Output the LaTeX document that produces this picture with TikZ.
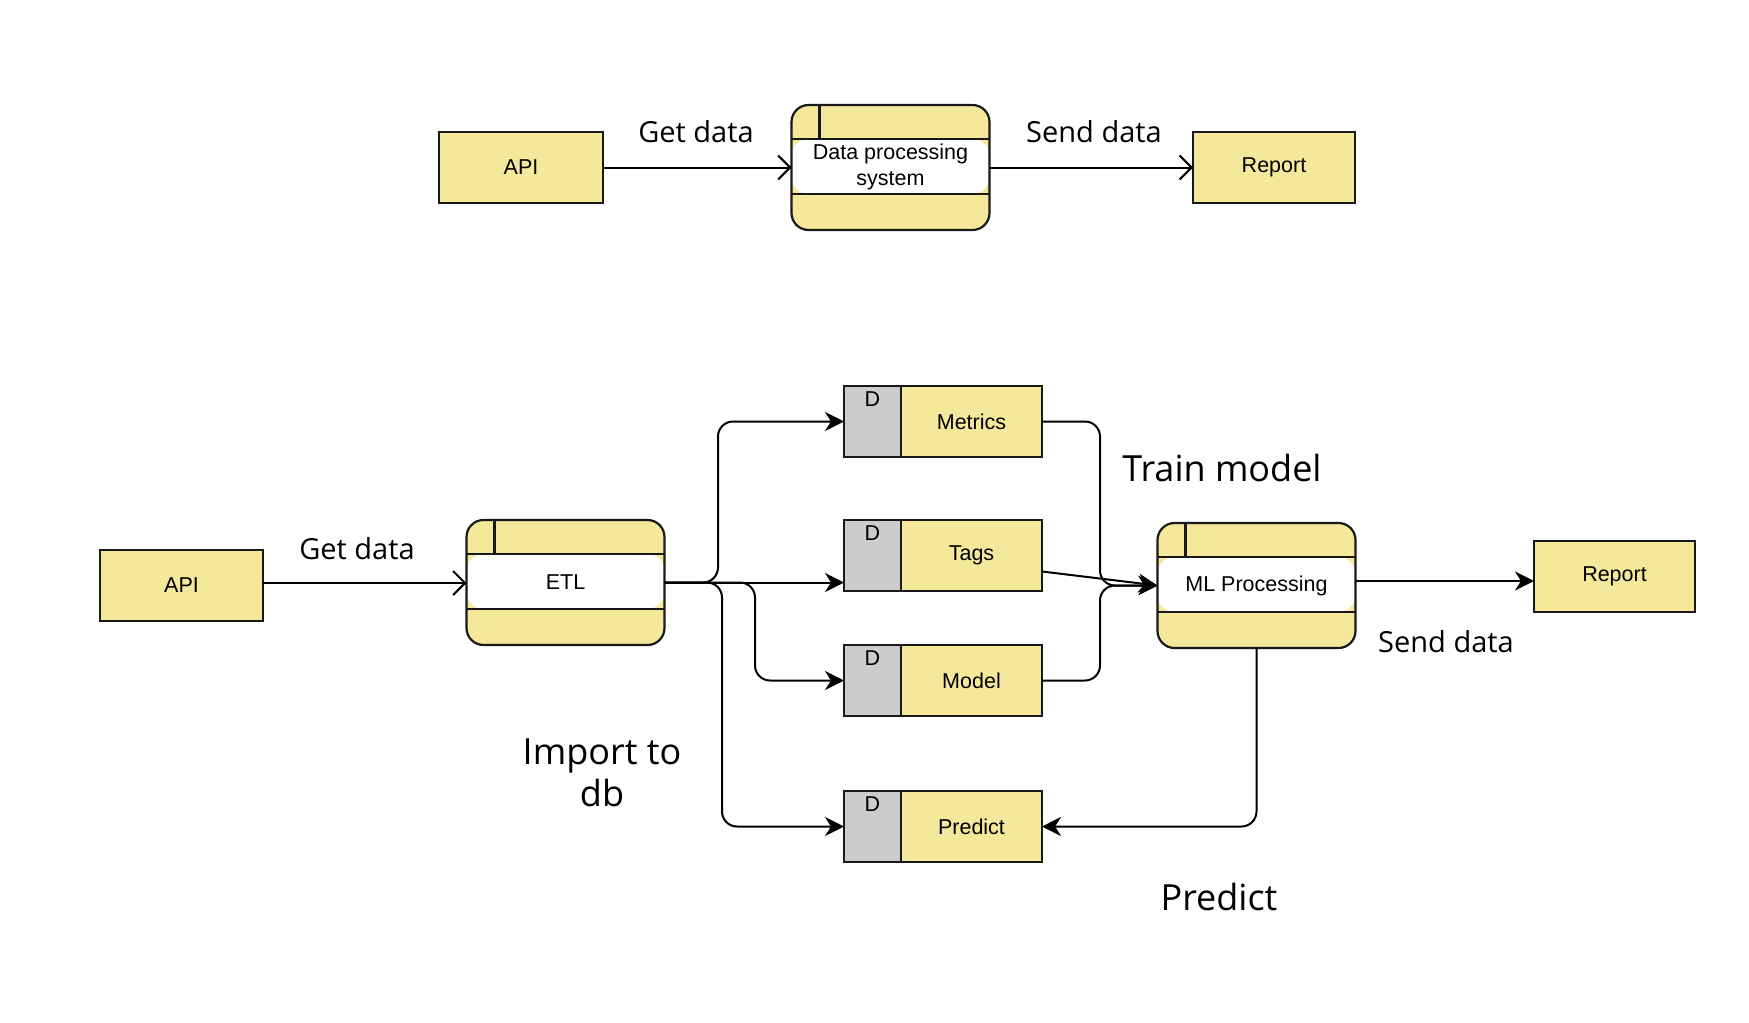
\documentclass[tikz,border=0pt]{standalone}
\usepackage{fontspec}
\setmainfont{Liberation Sans}
\newfontfamily\labfont{Open Sans}
\usetikzlibrary{arrows.meta,calc}
\definecolor{boxyellow}{HTML}{F4E89B}
\definecolor{storegray}{HTML}{CCCCCC}
\tikzset{
  boxtext/.style={font=\fontsize{21.5}{26}\selectfont, align=center, inner sep=0pt},
  lab/.style={font=\labfont\fontsize{29}{34}\selectfont, align=center, inner sep=0pt},
  biglab/.style={font=\labfont\fontsize{36}{42}\selectfont, align=center, inner sep=0pt},
  edge line/.style={draw=black!90, line width=2.2pt},
  extbox/.style={rectangle, edge line, fill=boxyellow, minimum height=71pt, inner sep=0pt, outer sep=0pt},
  procbox/.style={rectangle, rounded corners=17pt, fill=boxyellow, draw=none,
    minimum width=198pt, minimum height=125pt, inner sep=0pt, outer sep=0pt,
    path picture={
      \fill[white] ([yshift=-34pt]path picture bounding box.north west) rectangle ([yshift=-89pt]path picture bounding box.north east);
    }},
  storebox/.style={rectangle, fill=boxyellow, draw=none,
    minimum width=198pt, minimum height=71pt, inner sep=0pt, outer sep=0pt,
    path picture={
      \fill[storegray] (path picture bounding box.north west) rectangle ([xshift=57pt]path picture bounding box.south west);
    }},
  flow/.style={line width=2pt, draw=black},
  openarrow/.style={flow, -{Straight Barb[length=12pt,width=24pt,line width=2pt]}},
  filledarrow/.style={flow, rounded corners=15pt, -{Stealth[length=19pt,width=19pt,inset=6pt]}},
}
\begin{document}
\begin{tikzpicture}[x=1pt,y=-1pt]
\useasboundingbox[fill=white] (0,0) rectangle (1749,1023);

% ---------- nodes ----------
\node[extbox, minimum width=164pt] (apiT) at (521,167.5) {};
\node[procbox] (dps) at (890.5,167.5) {};
\node[extbox, minimum width=162pt] (repT) at (1274,167.5) {};

\node[extbox, minimum width=163pt] (apiB) at (181.5,585.5) {};
\node[procbox] (etl) at (565.5,582.5) {};
\node[storebox] (metrics) at (943,421.5) {};
\node[storebox] (tags) at (943,555.5) {};
\node[storebox] (model) at (943,680.5) {};
\node[storebox] (predict) at (943,826.5) {};
\node[procbox] (ml) at (1256.5,585.5) {};
\node[extbox, minimum width=161pt] (repB) at (1614.5,576.5) {};

% outlines of process shapes
\foreach \p in {dps,etl,ml}{
  \draw[edge line] ([yshift=-34pt]\p.north west) -- ([yshift=-34pt]\p.north east);
  \draw[edge line] ([yshift=-89pt]\p.north west) -- ([yshift=-89pt]\p.north east);
  \draw[edge line] ([xshift=28pt]\p.north west) -- ([xshift=28pt,yshift=-34pt]\p.north west);
  \draw[edge line, rounded corners=17pt] (\p.north west) rectangle (\p.south east);
}
% outlines of data stores
\foreach \s/\t in {metrics/Metrics,tags/Tags,model/Model,predict/Predict}{
  \draw[edge line] ([xshift=57pt]\s.north west) -- ([xshift=57pt]\s.south west);
  \draw[edge line] (\s.north west) rectangle (\s.south east);
  \node[boxtext] (\s-d) at ([xshift=28.5pt,yshift=-13pt]\s.north west) {D};
  \node[boxtext] (\s-t) at ([xshift=28.5pt]\s.center) {\t};
}

\node[boxtext] (apiT-t) at (apiT.center) {API};
\node[boxtext] (dps-t) at (890.5,166.5) {Data processing\\system};
\node[boxtext] (repT-t) at (repT.center) {Report};
\node[boxtext] (apiB-t) at (apiB.center) {API};
\node[boxtext] (etl-t) at (etl.center) {ETL};
\node[boxtext] (ml-t) at (ml.center) {ML Processing};
\node[boxtext] (repB-t) at (repB.center) {Report};

% ---------- connectors ----------
\draw[openarrow] (apiT.east) -- (dps.west);
\draw[openarrow] (dps.east) -- (repT.west);

\draw[openarrow] (apiB.east |- 0,583) -- (etl.west |- 0,583);
\draw[filledarrow] (etl.east) -- (718,582.5) |- (metrics.west);
\draw[filledarrow] (etl.east) -- (tags.west |- etl.east);
\draw[filledarrow] (etl.east) -- (755,582.5) |- (model.west);
\draw[filledarrow] (etl.east) -- (722,582.5) |- (predict.west);

\draw[filledarrow] (metrics.east) -- (1100,421.5) |- (ml.west);
\draw[filledarrow] ($(tags.east)+(0,16)$) -- (ml.west);
\draw[filledarrow] (model.east) -- (1100,680.5) |- (ml.west);
\draw[filledarrow] (ml.south) |- (predict.east);
\draw[filledarrow] ($(ml.east)+(0,-4.5)$) -- ($(repB.west)+(0,4.5)$);

% ---------- labels ----------
\node[lab] (getT) at (696,132) {Get data};
\node[lab] (sendT) at (1094,132) {Send data};
\node[lab] (getB) at (357,549) {Get data};
\node[biglab] (train) at (1222,468) {Train model};
\node[lab] (sendB) at (1446,642) {Send data};
\node[biglab] (import) at (602,773) {Import to\\db};
\node[biglab] (predl) at (1219,897) {Predict};
\end{tikzpicture}
\end{document}
